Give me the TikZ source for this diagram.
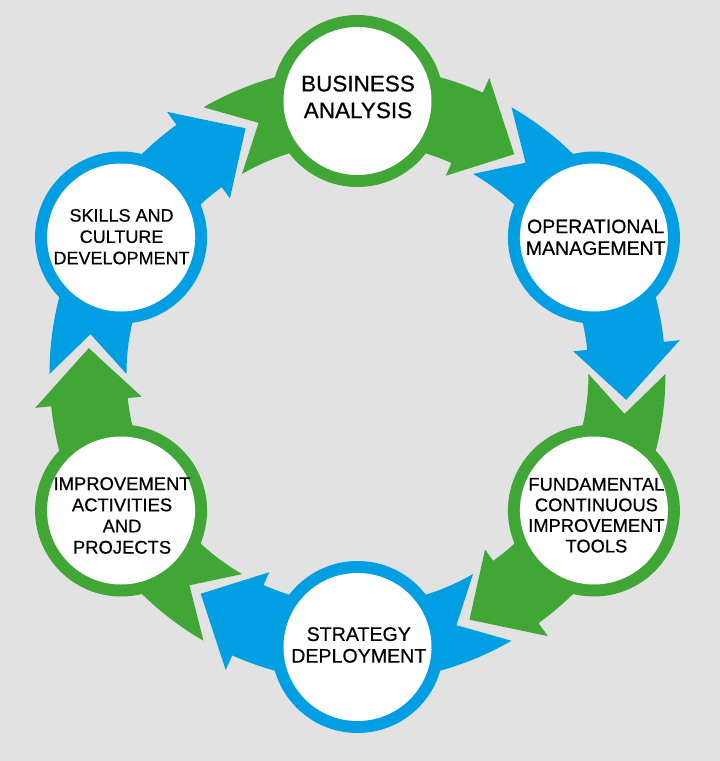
\documentclass[tikz,border=0pt]{standalone}
\usepackage{fontspec}
\setmainfont{Liberation Sans}
\newfontfamily\lblfont[FakeBold=0.6]{Liberation Sans}
\definecolor{grn}{RGB}{64,166,54}
\definecolor{blu}{RGB}{0,158,226}
\definecolor{bgc}{RGB}{226,226,226}
\tikzset{
  disc/.style={circle, fill=white, minimum size=148pt, inner sep=0pt},
  lbl/.style={align=center, text=black, inner sep=0pt},
}
\begin{document}
\begin{tikzpicture}[x=1pt,y=1pt]
\fill[bgc] (-357.5,-387) rectangle (362.5,374);
\useasboundingbox (-357.5,-387) rectangle (362.5,374);
\coordinate (O) at (0,0);
\foreach \c/\col/\nm/\txt/\fs/\ls/\dx/\dy in {
  90/grn/ba/{BUSINESS\\ANALYSIS}/22.5/26.7/0.5/4,
  30/blu/om/{OPERATIONAL\\MANAGEMENT}/19.5/21.7/1.8/0.2,
  -30/grn/fct/{FUNDAMENTAL\\CONTINUOUS\\IMPROVEMENT\\TOOLS}/18.3/20.6/2.5/-4.8,
  -90/blu/sd/{STRATEGY\\DEPLOYMENT}/19.6/21.7/1.3/2,
  -150/grn/iap/{IMPROVEMENT\\ACTIVITIES\\AND\\PROJECTS}/18.4/21.2/1/-5,
  150/blu/scd/{SKILLS AND\\CULTURE\\DEVELOPMENT}/18/21.3/0.5/0.8}{
  \fill[\col] ({\c+30}:308) arc[start angle={\c+30}, end angle={\c-24}, radius=308]
     -- ({\c-24}:324) -- ({\c-35.5}:270) -- ({\c-24}:217) -- ({\c-24}:231)
     arc[start angle={\c-24}, end angle={\c+30}, radius=231]
     -- ({\c+21.5}:270) -- cycle;
  \fill[\col] (\c:273) circle[radius=86];
  \node[disc] (\nm) at (\c:273) {};
  \node[lbl, font=\lblfont\fontsize{\fs}{\ls}\selectfont, xshift=\dx pt, yshift=\dy pt] (\nm-t) at (\nm.center) {\txt};
}
\end{tikzpicture}
\end{document}
